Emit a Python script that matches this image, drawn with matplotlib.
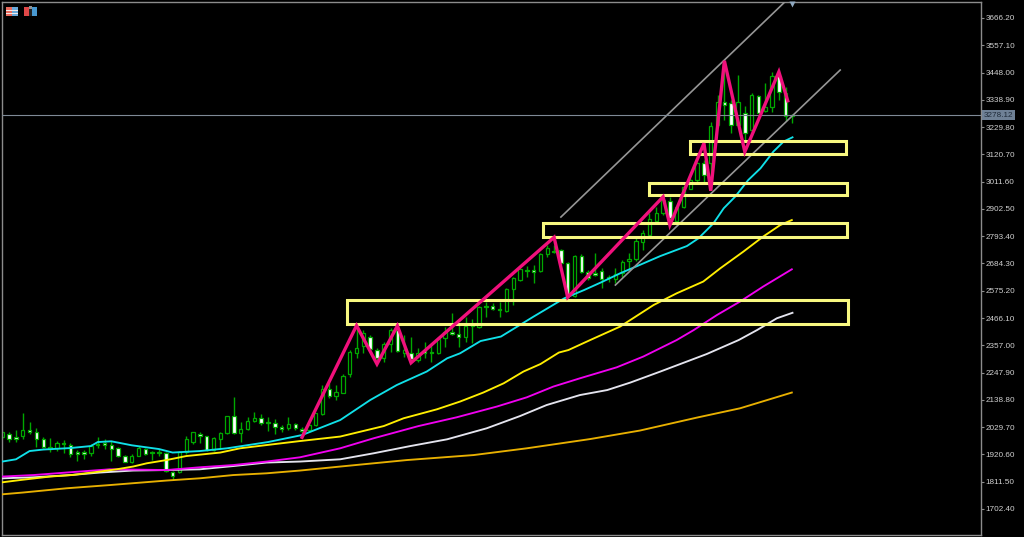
"""Gold daily candles with moving averages, zigzag, channel and support boxes."""

import matplotlib

matplotlib.use("Agg")
import matplotlib.pyplot as plt
import numpy as np
from matplotlib.patches import Rectangle

# candles, one entry per bar
opens = [1989, 2002, 1992, 1994, 2018, 2012, 1981, 1942, 1948, 1968,
         1958, 1929, 1929, 1925, 1962, 1965, 1960, 1945, 1916, 1890,
         1916, 1942, 1929, 1929, 1925, 1849, 1849, 1932, 1969, 2004,
         1994, 1938, 1981, 2005, 2076, 2005, 2021, 2056, 2065, 2052,
         2048, 2032, 2025, 2041, 2021, 2018, 2038, 2081, 2181, 2156,
         2168, 2241, 2328, 2354, 2392, 2338, 2308, 2361, 2418, 2325,
         2328, 2298, 2336, 2329, 2325, 2385, 2412, 2402, 2389, 2441,
         2429, 2514, 2514, 2504, 2494, 2581, 2618, 2658, 2658, 2656,
         2721, 2736, 2738, 2685, 2554, 2716, 2652, 2645, 2656, 2632,
         2621, 2645, 2694, 2702, 2772, 2798, 2854, 2885, 2936, 2856,
         2912, 2984, 3018, 3085, 3085, 3238, 3332, 3325, 3238, 3288,
         3218, 3356, 3296, 3312, 3434, 3365, 3274]
closes = [2009, 1982, 1982, 2018, 2009, 1981, 1949, 1949, 1965, 1962,
          1922, 1924, 1924, 1956, 1957, 1960, 1944, 1914, 1892, 1916,
          1945, 1922, 1925, 1925, 1856, 1834, 1932, 1984, 2009, 1994,
          1938, 1985, 2005, 2074, 2005, 2021, 2056, 2065, 2048, 2048,
          2032, 2021, 2041, 2025, 2016, 2038, 2085, 2181, 2156, 2169,
          2234, 2332, 2345, 2405, 2341, 2305, 2361, 2418, 2334, 2338,
          2301, 2325, 2325, 2325, 2382, 2412, 2402, 2389, 2434, 2433,
          2509, 2509, 2504, 2498, 2581, 2625, 2661, 2654, 2652, 2722,
          2745, 2732, 2685, 2554, 2716, 2652, 2625, 2638, 2622, 2628,
          2641, 2689, 2702, 2774, 2805, 2862, 2885, 2938, 2865, 2912,
          2989, 3018, 3085, 3038, 3236, 3329, 3318, 3238, 3329, 3205,
          3358, 3288, 3312, 3434, 3369, 3274, 3278]
highs = [2012, 2012, 2018, 2085, 2049, 2025, 1989, 1985, 1974, 1978,
         1965, 1938, 1938, 1962, 1992, 1982, 1974, 1952, 1918, 1922,
         1956, 1948, 1936, 1942, 1932, 1856, 1936, 1994, 2012, 2012,
         1996, 1989, 2012, 2074, 2149, 2052, 2069, 2089, 2081, 2069,
         2061, 2038, 2069, 2045, 2032, 2045, 2088, 2198, 2205, 2198,
         2242, 2338, 2432, 2418, 2398, 2345, 2372, 2425, 2432, 2398,
         2392, 2345, 2372, 2365, 2389, 2432, 2485, 2438, 2472, 2462,
         2514, 2532, 2528, 2532, 2585, 2629, 2665, 2676, 2678, 2725,
         2758, 2758, 2742, 2689, 2718, 2721, 2658, 2728, 2665, 2638,
         2665, 2698, 2728, 2785, 2818, 2885, 2912, 2952, 2952, 2918,
         2998, 3025, 3092, 3098, 3252, 3358, 3485, 3338, 3438, 3314,
         3365, 3358, 3405, 3452, 3452, 3389, 3282]
lows = [1985, 1972, 1972, 1981, 2002, 1952, 1945, 1932, 1936, 1925,
        1909, 1894, 1902, 1914, 1945, 1942, 1894, 1912, 1889, 1885,
        1914, 1918, 1898, 1914, 1849, 1818, 1845, 1922, 1962, 1968,
        1936, 1936, 1942, 2002, 2002, 1972, 2018, 2052, 2038, 2016,
        2002, 2009, 2018, 2018, 1992, 2012, 2034, 2078, 2145, 2138,
        2165, 2229, 2305, 2325, 2332, 2298, 2292, 2332, 2329, 2312,
        2298, 2289, 2305, 2292, 2322, 2352, 2398, 2352, 2372, 2365,
        2425, 2472, 2498, 2472, 2492, 2518, 2614, 2629, 2605, 2652,
        2712, 2725, 2682, 2548, 2549, 2648, 2618, 2634, 2585, 2609,
        2605, 2632, 2658, 2696, 2738, 2792, 2845, 2878, 2838, 2852,
        2905, 2981, 3009, 3012, 2992, 3232, 3258, 3205, 3234, 3178,
        3212, 3285, 3292, 3292, 3338, 3256, 3245]

# moving averages, read at irregular bars
cyan_bars = [0, 2, 4, 6, 10, 13, 14, 16, 19, 23, 25, 29, 33, 39, 44, 49.6, 54, 57.9,
             62.3, 65.3, 67.2, 70.2, 73.2, 75.6, 78, 82.5, 85.4, 88, 90.7, 93.2, 96.6,
             100.5, 102.2, 104.4, 105.9, 107.6, 109.5, 111.3, 113.2, 114.7, 116]
cyan_ma = [1892, 1901, 1934, 1940, 1946, 1954, 1970, 1973, 1957, 1942, 1928, 1934,
           1945, 1970, 1998, 2058, 2138, 2198, 2252, 2305, 2325, 2374, 2392, 2432,
           2472, 2545, 2578, 2610, 2645, 2674, 2714, 2754, 2785, 2845, 2905, 2952,
           3018, 3065, 3132, 3172, 3189]
yellow_bars = [0, 2.6, 7, 10.2, 14.3, 16.8, 19.2, 21.2, 24.1, 27, 32, 34.9, 38.8, 43.7,
               49.6, 56, 58.9, 63.8, 67.2, 70.6, 73.6, 76.5, 79, 81.7, 83.1, 86.3, 90.7,
               95.6, 99, 102.9, 105.4, 108.8, 111.7, 114.2, 115.9]
yellow_ma = [1809, 1818, 1832, 1838, 1852, 1861, 1872, 1885, 1898, 1914, 1928, 1945,
             1958, 1974, 1992, 2034, 2065, 2101, 2132, 2168, 2205, 2252, 2282, 2328,
             2338, 2378, 2432, 2518, 2565, 2612, 2665, 2732, 2792, 2838, 2858]
magenta_bars = [0, 4.6, 9.4, 15.8, 24.1, 29, 33.9, 38.8, 43.7, 49.6, 54.5, 61.1, 66.7,
                72.6, 77, 80.9, 84.8, 90.2, 94.1, 99, 101.5, 104.9, 108.3, 111.7, 115.9]
magenta_ma = [1832, 1838, 1848, 1861, 1858, 1869, 1878, 1892, 1909, 1945, 1985, 2034,
              2069, 2112, 2149, 2192, 2225, 2269, 2312, 2378, 2418, 2478, 2532, 2592,
              2661]
white_bars = [0, 4.6, 10, 14.3, 19.2, 24.1, 29, 33.9, 38.8, 43.7, 49.6, 54.5, 59.9,
              65.3, 71.1, 76, 79.9, 84.8, 88.8, 92.2, 96.6, 103.4, 108.1, 110.8, 113.7,
              116]
white_ma = [1825, 1829, 1838, 1848, 1856, 1858, 1861, 1874, 1888, 1892, 1901, 1925,
            1954, 1981, 2025, 2074, 2118, 2158, 2178, 2208, 2252, 2322, 2378, 2418,
            2465, 2487]
orange_bars = [0, 3, 9.4, 15.8, 24.1, 29, 33.9, 38.8, 43.7, 49.6, 59.4, 69.2, 77, 86.3,
               93.6, 102, 108.3, 115.9]
orange_ma = [1761, 1768, 1785, 1798, 1816, 1825, 1838, 1845, 1856, 1872, 1898, 1918,
             1945, 1982, 2016, 2068, 2105, 2168]

# zigzag pivots
zigzag_bars = [44, 52, 55, 58, 60, 81, 83, 97, 98, 103, 104, 106, 109, 114, 115.3]
zigzag_prices = [1989, 2436, 2282, 2435, 2287, 2789, 2549, 2951, 2838, 3165, 2975,
                 3495, 3131, 3451, 3335]

# channel lines
upper_bars = [82, 114.9]
upper_prices = [2870, 3731]
lower_bars = [90, 123]
lower_prices = [2598, 3458]
arrow_bar = 116
arrow_price = 3723

# support boxes
box_left = [50.6, 79.4, 94.9, 101.0]
box_right = [124.2, 124.0, 124.0, 123.9]
box_top = [2540, 2845, 3005, 3174]
box_bottom = [2442, 2791, 2958, 3121]

last_price = 3278.12
tick_prices = [1702.4, 1811.5, 1920.6, 2029.7, 2138.8, 2247.9, 2357.0, 2466.1, 2575.2,
               2684.3, 2793.4, 2902.5, 3011.6, 3120.7, 3229.8, 3338.9, 3448.0, 3557.1,
               3666.2]

FRAME = "#8c8c8c"
GREEN = "#00a800"
FONT = ["Liberation Sans", "DejaVu Sans"]

fig = plt.figure(figsize=(10.24, 5.37), dpi=100, facecolor="black")
ax = fig.add_axes([2 / 1024, 2 / 537, 978.5 / 1024, 533 / 537], facecolor="black")

x = np.arange(len(opens))
o, c = np.array(opens), np.array(closes)
ax.vlines(x, lows, highs, color=GREEN, lw=1.0, zorder=1)
ax.bar(
    x,
    np.abs(c - o),
    bottom=np.minimum(o, c),
    width=0.5,
    facecolor=np.where(c >= o, "black", "white").tolist(),
    edgecolor=GREEN,
    linewidth=0.9,
    zorder=2,
)

ma_style = dict(lw=1.35, solid_joinstyle="round", zorder=3)
ax.plot(orange_bars, orange_ma, color="#e8b000", **ma_style)
ax.plot(white_bars, white_ma, color="#e4e4ee", **ma_style)
ax.plot(magenta_bars, magenta_ma, color="#f000f0", **ma_style)
ax.plot(yellow_bars, yellow_ma, color="#ffee00", **ma_style)
ax.plot(cyan_bars, cyan_ma, color="#10e0e8", **ma_style)

ax.plot(upper_bars, upper_prices, color="#969696", lw=1.2, zorder=3)
ax.plot(lower_bars, lower_prices, color="#969696", lw=1.2, zorder=3)
ax.plot(arrow_bar, arrow_price, marker="v", ms=4, color="#8fa8bf", mec="none",
        clip_on=False, zorder=3)
ax.axhline(last_price, color="#7f8a96", lw=0.8, zorder=3)

for left, right, top, bottom in zip(box_left, box_right, box_top, box_bottom):
    ax.add_patch(
        Rectangle(
            (left, bottom), right - left, top - bottom,
            fill=False, edgecolor="#f8f880", lw=2.2, zorder=4,
        )
    )
ax.plot(zigzag_bars, zigzag_prices, color="#f0107c", lw=2.4,
        solid_joinstyle="miter", zorder=5)

ax.set_xlim(-0.05, 143.6)
ax.set_ylim(3738.2 - 4 * 535, 3738.2 - 4 * 2)
ax.set_xticks([])
ax.yaxis.tick_right()
ax.set_yticks(tick_prices, [f"{p:.2f}" for p in tick_prices], family=FONT, fontsize=5.9,
              color="#d0d0d0")
ax.tick_params(axis="y", length=2.5, width=0.8, color=FRAME, pad=1)
for spine in ax.spines.values():
    spine.set_color(FRAME)
    spine.set_linewidth(1.0)

# current price tag on the scale
ax.annotate(
    f"{last_price:.2f}",
    xy=(1, last_price),
    xycoords=("axes fraction", "data"),
    xytext=(2.5, 0),
    textcoords="offset points",
    ha="left",
    va="center",
    family=FONT,
    fontsize=5.9,
    color="#1e2a38",
    bbox=dict(boxstyle="square,pad=0.22", fc="#6f8196", ec="none"),
    annotation_clip=False,
)


# chart window icons, top left
def icon(left, top, width, height, color):
    fig.add_artist(
        Rectangle((left / 1024, 1 - (top + height) / 537), width / 1024, height / 537,
                  transform=fig.transFigure, fc=color, ec="none")
    )


icon(6, 7, 12, 9, "#e86a5c")
icon(12, 7, 6, 9, "#6aa8d8")
icon(6, 10, 12, 1, "#f4e8e8")
icon(6, 13, 12, 1, "#f4e8e8")
icon(24, 7, 5, 9, "#e04848")
icon(32, 7, 5, 9, "#4898d0")
icon(29, 6, 3, 3, "#909090")
icon(29, 9, 3, 7, "#202020")

fig.savefig("out.png", dpi=100, facecolor="black")
